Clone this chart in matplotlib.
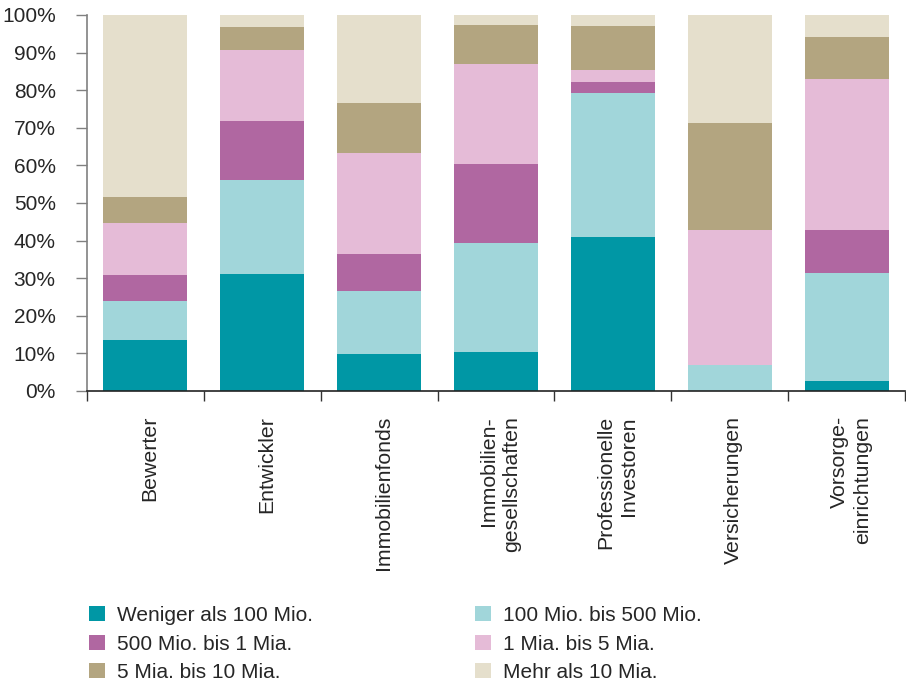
import matplotlib
matplotlib.use("Agg")
import matplotlib.pyplot as plt
from matplotlib.patches import Patch
from matplotlib.ticker import FixedLocator, PercentFormatter
import numpy as np

plt.rcParams['font.family'] = ['Liberation Sans', 'DejaVu Sans']

categories = ["Bewerter", "Entwickler", "Immobilienfonds",
              "Immobilien-\ngesellschaften", "Professionelle\nInvestoren",
              "Versicherungen", "Vorsorge-\neinrichtungen"]

series_names = ["Weniger als 100 Mio.", "100 Mio. bis 500 Mio.",
                "500 Mio. bis 1 Mia.", "1 Mia. bis 5 Mia.",
                "5 Mia. bis 10 Mia.", "Mehr als 10 Mia."]

lt_100mio = [13.6, 31.1, 9.8, 10.4, 41.0, 0.0, 2.7]
mio100_500 = [10.4, 25.0, 16.8, 29.0, 38.3, 7.0, 28.7]
mio500_1mia = [6.9, 15.7, 9.8, 21.1, 3.0, 0.0, 11.4]
mia1_5 = [13.9, 18.9, 26.9, 26.4, 3.1, 35.8, 40.1]
mia5_10 = [6.8, 6.1, 13.3, 10.4, 11.6, 28.5, 11.3]
gt_10mia = [48.4, 3.2, 23.4, 2.7, 3.0, 28.7, 5.8]

colors = ["#0097A5", "#A1D6DA", "#B067A1", "#E5BBD7", "#B3A580", "#E5DFCC"]

series = [lt_100mio, mio100_500, mio500_1mia, mia1_5, mia5_10, gt_10mia]

TEXT = '#262626'

fig = plt.figure(figsize=(9.06, 6.85), dpi=100)
ax = fig.add_axes([87 / 906, 1 - 391 / 685, 818 / 906, 376 / 685])

x = np.arange(len(categories))
bottom = np.zeros(len(categories))
for vals, col, name in zip(series, colors, series_names):
    v = np.array(vals)
    ax.bar(x, v, width=0.72, bottom=bottom, color=col, label=name,
           edgecolor='none', linewidth=0)
    bottom += v

ax.set_xlim(-0.5, len(categories) - 0.5)
ax.set_ylim(0, 100)
ax.yaxis.set_major_locator(FixedLocator(np.arange(0, 101, 10)))
ax.yaxis.set_major_formatter(PercentFormatter(decimals=0))

# category ticks sit between the bars; names are drawn at bar centres
ax.xaxis.set_major_locator(FixedLocator(np.arange(-0.5, len(categories), 1.0)))
ax.set_xticklabels([])
ax.tick_params(axis='x', direction='out', length=7, width=1, color='#333333')
ax.tick_params(axis='y', direction='out', length=8, width=1, color='#808080',
               pad=14.5, labelsize=15, labelcolor=TEXT)

for s in ['top', 'right']:
    ax.spines[s].set_visible(False)
ax.spines['left'].set_color('#808080')
ax.spines['bottom'].set_color('#222222')
ax.spines['left'].set_linewidth(1.2)
ax.spines['bottom'].set_linewidth(1.2)

for xi, name in zip(x, categories):
    ax.annotate(name, xy=(xi, 0), xycoords=('data', 'axes fraction'),
                xytext=(3, -18), textcoords='offset points',
                rotation=90, ha='center', va='top', multialignment='right',
                fontsize=15.3, color=TEXT, linespacing=1.3)

handles = [Patch(facecolor=c, edgecolor='none') for c in colors]
leg_kw = dict(frameon=False, fontsize=15, handlelength=0.77, handleheight=0.72,
              handletextpad=0.58, labelspacing=0.46, borderpad=0, borderaxespad=0,
              loc='upper left', labelcolor=TEXT)
fig.legend([handles[0], handles[2], handles[4]],
           [series_names[0], series_names[2], series_names[4]],
           bbox_to_anchor=(89 / 906, 1 - 606 / 685), **leg_kw)
fig.legend([handles[1], handles[3], handles[5]],
           [series_names[1], series_names[3], series_names[5]],
           bbox_to_anchor=(475 / 906, 1 - 606 / 685), **leg_kw)

fig.savefig("out.png", dpi=100)
